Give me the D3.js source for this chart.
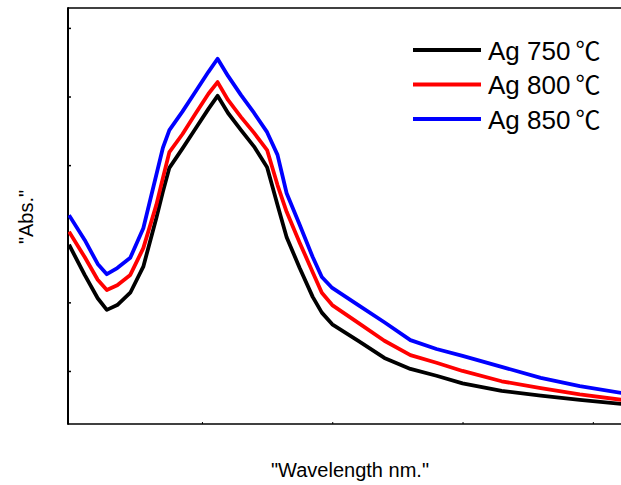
<!DOCTYPE html>
<html>
<head>
<meta charset="utf-8">
<script src="https://cdn.jsdelivr.net/npm/d3@7"></script>
<style>
  body { margin: 0; background: #fff; }
  svg { display: block; font-family: Arial, "Liberation Sans", sans-serif; }
</style>
</head>
<body>
<div id="root"></div>
<script>
// wavelength grid (nm), shared by all three spectra
const wavelength = [198, 210, 220, 227, 235, 245, 255, 265, 270, 275, 285, 295, 305, 312, 320, 330,
                    340, 350, 358, 365, 375, 385, 392, 400, 420, 440, 460, 480, 500, 530, 560, 590, 622]

const abs750 = [0.284, 0.240, 0.206, 0.189, 0.196, 0.214, 0.252, 0.323, 0.361, 0.396, 0.424, 0.453, 0.482, 0.501, 0.476, 0.451,
                0.427, 0.397, 0.342, 0.295, 0.250, 0.208, 0.185, 0.168, 0.144, 0.119, 0.103, 0.093, 0.082, 0.071, 0.064, 0.058, 0.052]
const abs800 = [0.303, 0.266, 0.233, 0.218, 0.225, 0.240, 0.279, 0.342, 0.381, 0.419, 0.445, 0.475, 0.504, 0.521, 0.495, 0.470,
                0.447, 0.422, 0.371, 0.332, 0.287, 0.244, 0.214, 0.196, 0.170, 0.144, 0.123, 0.112, 0.100, 0.085, 0.075, 0.066, 0.058]
const abs850 = [0.327, 0.291, 0.256, 0.241, 0.250, 0.265, 0.308, 0.386, 0.425, 0.451, 0.478, 0.507, 0.536, 0.555, 0.530, 0.502,
                0.476, 0.448, 0.415, 0.359, 0.313, 0.266, 0.237, 0.221, 0.196, 0.171, 0.145, 0.132, 0.122, 0.106, 0.090, 0.078, 0.068]

const seriesNames = ["Ag 750", "Ag 800", "Ag 850"]
const seriesColors = ["#000000", "#ff0000", "#0000ff"]
const yTicks = [0.1, 0.2, 0.3, 0.4, 0.5, 0.6]
const xTicks = [300, 400, 500, 600]

const W = 621, H = 485
const m = {left: 68, top: 8, bottom: 424, right: 640}

const series = [abs750, abs800, abs850].map((vals, i) => ({
    name: seriesNames[i],
    color: seriesColors[i],
    data: wavelength.map((w, j) => ({w, a: vals[j]}))
}))

const x = d3.scaleLinear().domain([197.2, 636.2]).range([m.left, m.right])
const y = d3.scaleLinear().domain([0.0227, 0.629]).range([m.bottom, m.top])

const svg = d3.select("#root").append("svg")
    .attr("width", W)
    .attr("height", H)

svg.append("defs").append("clipPath").attr("id", "plot")
   .append("rect")
   .attr("x", m.left).attr("y", m.top)
   .attr("width", m.right - m.left).attr("height", m.bottom - m.top)

// frame: top and bottom lines, thick left axis
svg.append("line")
   .attr("x1", m.left).attr("x2", m.right).attr("y1", m.top).attr("y2", m.top)
   .attr("stroke", "#000").attr("stroke-width", 1.5)
svg.append("line")
   .attr("x1", m.left).attr("x2", m.right).attr("y1", m.bottom).attr("y2", m.bottom)
   .attr("stroke", "#000").attr("stroke-width", 1.5)

const yAxis = svg.append("g")
    .attr("transform", `translate(${m.left},0)`)
    .call(d3.axisRight(y).tickValues(yTicks).tickSize(3).tickFormat(""))
yAxis.select(".domain").remove()
yAxis.selectAll(".tick line").attr("stroke-width", 1.5)
svg.append("line")
   .attr("x1", m.left).attr("x2", m.left).attr("y1", m.top - 0.75).attr("y2", m.bottom + 0.75)
   .attr("stroke", "#000").attr("stroke-width", 2)

const xAxis = svg.append("g")
    .attr("transform", `translate(0,${m.bottom})`)
    .call(d3.axisTop(x).tickValues(xTicks).tickSize(2).tickFormat(""))
xAxis.select(".domain").remove()

const line = d3.line().x(d => x(d.w)).y(d => y(d.a))

svg.append("g").attr("clip-path", "url(#plot)")
   .selectAll("path")
   .data(series)
   .join("path")
   .attr("d", d => line(d.data))
   .attr("fill", "none")
   .attr("stroke", d => d.color)
   .attr("stroke-width", 3.8)
   .attr("stroke-linejoin", "round")

// legend
const leg = svg.append("g")
    .selectAll("g")
    .data(series)
    .join("g")
    .attr("transform", (d, i) => `translate(413,${50 + i * 34.5})`)
leg.append("line")
   .attr("x1", 0).attr("x2", 68)
   .attr("stroke", d => d.color).attr("stroke-width", 4)
const lt = leg.append("text")
   .attr("x", 75).attr("y", 9.5)
   .attr("font-size", 26)
lt.append("tspan").text(d => d.name)
lt.append("tspan")
  .attr("dx", 5)
  .attr("font-family", "'Noto Sans CJK SC', 'DejaVu Sans', sans-serif")
  .attr("font-size", 25)
  .text("℃")

// axis titles
svg.append("text")
   .attr("x", 350).attr("y", 477)
   .attr("text-anchor", "middle")
   .attr("font-size", 20)
   .text('"Wavelength nm."')
svg.append("text")
   .attr("transform", "translate(33,217) rotate(-90)")
   .attr("text-anchor", "middle")
   .attr("font-size", 20)
   .text('"Abs."')
</script>
</body>
</html>
